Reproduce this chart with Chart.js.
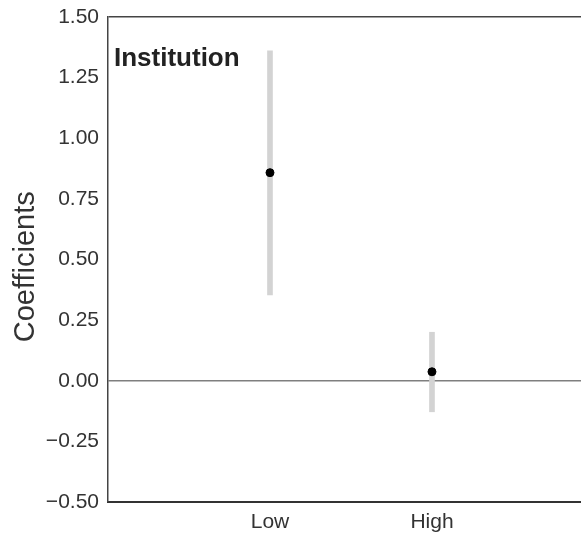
<!DOCTYPE html>
<html>
<head>
<meta charset="utf-8">
<script src="https://cdn.jsdelivr.net/npm/chart.js@4/dist/chart.umd.min.js"></script>
<style>
  html, body { margin: 0; padding: 0; background: #fff; }
  #wrap { width: 581px; height: 535px; }
</style>
</head>
<body>
<div id="wrap"><canvas id="c" width="581" height="535"></canvas></div>
<script>
const categories = ['Low', 'High'];
const positions = [1, 2];
const estimates = [0.858, 0.037];
const ciLower = [0.354, -0.128];
const ciUpper = [1.361, 0.200];
const yTicks = [-0.5, -0.25, 0, 0.25, 0.5, 0.75, 1.0, 1.25, 1.5];
const panelLabel = 'Institution';
const yTitle = 'Coefficients';

const FONT = '"Liberation Sans", Arial, Helvetica, sans-serif';

const panelLabelPlugin = {
  id: 'panelLabel',
  afterDraw(chart) {
    const ctx = chart.ctx;
    const area = chart.chartArea;
    ctx.save();
    ctx.font = 'bold 26px ' + FONT;
    ctx.fillStyle = '#222';
    ctx.textAlign = 'left';
    ctx.textBaseline = 'alphabetic';
    ctx.fillText(panelLabel, area.left + 6, area.top + 49);
    ctx.restore();
  }
};

new Chart(document.getElementById('c'), {
  type: 'bar',
  data: {
    datasets: [
      {
        type: 'bar',
        label: 'CI',
        data: positions.map((p, i) => ({ x: p, y: [ciLower[i], ciUpper[i]] })),
        backgroundColor: '#d3d3d3',
        borderWidth: 0,
        barThickness: 5,
        grouped: false,
        order: 2
      },
      {
        type: 'scatter',
        label: 'Estimate',
        data: positions.map((p, i) => ({ x: p, y: estimates[i] })),
        backgroundColor: '#000',
        borderColor: '#000',
        pointRadius: 4,
        pointHoverRadius: 4,
        order: 1
      }
    ]
  },
  options: {
    responsive: false,
    animation: false,
    devicePixelRatio: 1,
    layout: { autoPadding: false, padding: { left: 0, right: 0, top: 17, bottom: 0 } },
    plugins: {
      legend: { display: false },
      tooltip: { enabled: false },
      title: { display: false }
    },
    scales: {
      x: {
        type: 'linear',
        min: 0,
        max: 2.92,
        offset: false,
        afterBuildTicks(scale) {
          scale.ticks = positions.map(v => ({ value: v }));
        },
        afterFit(scale) {
          scale.height = 33;
          scale.paddingLeft = 0;
          scale.paddingRight = 0;
        },
        grid: { display: false, drawTicks: false },
        border: { display: true, color: '#333', width: 2 },
        ticks: {
          autoSkip: false,
          maxRotation: 0,
          padding: 8,
          color: '#333',
          font: { family: FONT, size: 21 },
          callback(value) {
            const i = positions.indexOf(value);
            return i >= 0 ? categories[i] : '';
          }
        }
      },
      y: {
        type: 'linear',
        min: -0.5,
        max: 1.5,
        afterBuildTicks(scale) {
          scale.ticks = yTicks.map(v => ({ value: v }));
        },
        afterFit(scale) {
          scale.width = 108;
          scale.paddingTop = 0;
          scale.paddingBottom = 0;
        },
        grid: {
          drawTicks: false,
          color(ctx) {
            if (!ctx.tick) return 'transparent';
            if (ctx.tick.value === 0) return '#7f7f7f';
            if (ctx.tick.value === 1.5) return '#444';
            return 'transparent';
          },
          lineWidth(ctx) {
            if (!ctx.tick) return 0;
            if (ctx.tick.value === 0) return 1.5;
            if (ctx.tick.value === 1.5) return 1.5;
            return 0;
          }
        },
        border: { display: true, color: '#444', width: 1.5 },
        title: {
          display: true,
          text: yTitle + '\u2002',
          color: '#333',
          font: { family: FONT, size: 29, lineHeight: 1 },
          padding: { top: 11, bottom: 0 }
        },
        ticks: {
          padding: 9,
          color: '#333',
          font: { family: FONT, size: 21 },
          callback(value) { return value < 0 ? '\u2212' + Math.abs(value).toFixed(2) : value.toFixed(2); }
        }
      }
    }
  },
  plugins: [panelLabelPlugin]
});
</script>
</body>
</html>
